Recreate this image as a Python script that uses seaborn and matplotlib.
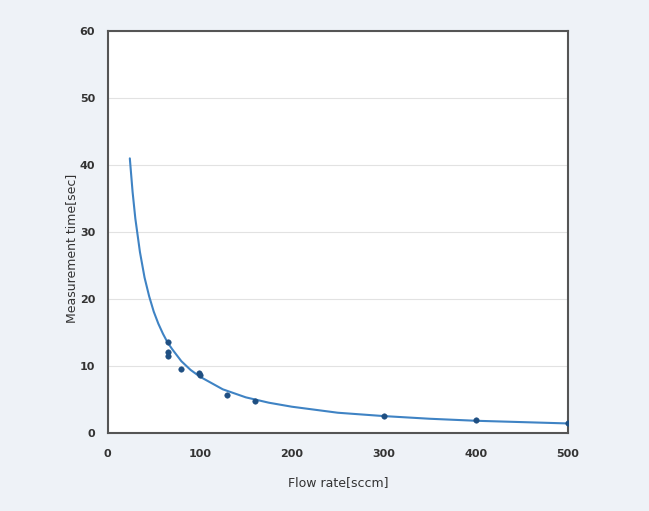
import matplotlib
matplotlib.use("Agg")
import matplotlib.pyplot as plt
import seaborn as sns
import pandas as pd

# measured points
flow = [65, 65, 65, 80, 99, 100, 130, 160, 300, 400, 500]
meas_time = [13.6, 12.0, 11.5, 9.5, 8.9, 8.6, 5.7, 4.8, 2.5, 1.9, 1.5]

# trend curve
curve_x = [24, 27, 30, 35, 40, 45, 50, 55, 60, 65, 70, 80, 90, 100, 125, 150, 175,
           200, 250, 300, 350, 400, 450, 500]
curve_y = [41.0, 36.0, 32.0, 27.0, 23.2, 20.4, 18.1, 16.3, 14.8, 13.5, 12.5, 10.7, 9.4,
           8.4, 6.5, 5.3, 4.5, 3.9, 3.0, 2.5, 2.1, 1.8, 1.6, 1.4]

x_ticks = [0, 100, 200, 300, 400, 500]
y_ticks = [0, 10, 20, 30, 40, 50, 60]

pts = pd.DataFrame({"flow": flow, "time": meas_time})
trend = pd.DataFrame({"flow": curve_x, "time": curve_y})

sns.set_style("white")
plt.rcParams["font.family"] = ["DejaVu Sans"]

fig = plt.figure(figsize=(6.49, 5.11), dpi=100, facecolor="#eef2f7")
ax = fig.add_axes([0.166, 0.153, 0.709, 0.786])
ax.set_facecolor("white")

sns.lineplot(data=trend, x="flow", y="time", ax=ax, color="#3f83c4", linewidth=1.5)
sns.scatterplot(data=pts, x="flow", y="time", ax=ax, color="#1f4f82", s=16,
                edgecolor="#1f4f82", zorder=3)

ax.set_xlim(0, 500)
ax.set_ylim(0, 60)
ax.set_xticks(x_ticks)
ax.set_yticks(y_ticks)
ax.yaxis.grid(True, color="#e2e2e2", linewidth=0.8)
ax.set_axisbelow(True)
ax.tick_params(direction="in", length=3, labelsize=8, color="#444444")
for lab in ax.get_xticklabels() + ax.get_yticklabels():
    lab.set_fontweight("bold")
    lab.set_color("#333333")
ax.tick_params(axis="x", pad=12)
ax.tick_params(axis="y", pad=9)
for s in ax.spines.values():
    s.set_color("#555555")
    s.set_linewidth(1.5)

ax.set_xlabel("Flow rate[sccm]", fontsize=9, color="#333333", labelpad=12)
ax.set_ylabel("Measurement time[sec]", fontsize=9, color="#333333")
ax.yaxis.set_label_coords(-0.064, 0.46)

fig.savefig("out.png", dpi=100, facecolor=fig.get_facecolor())
